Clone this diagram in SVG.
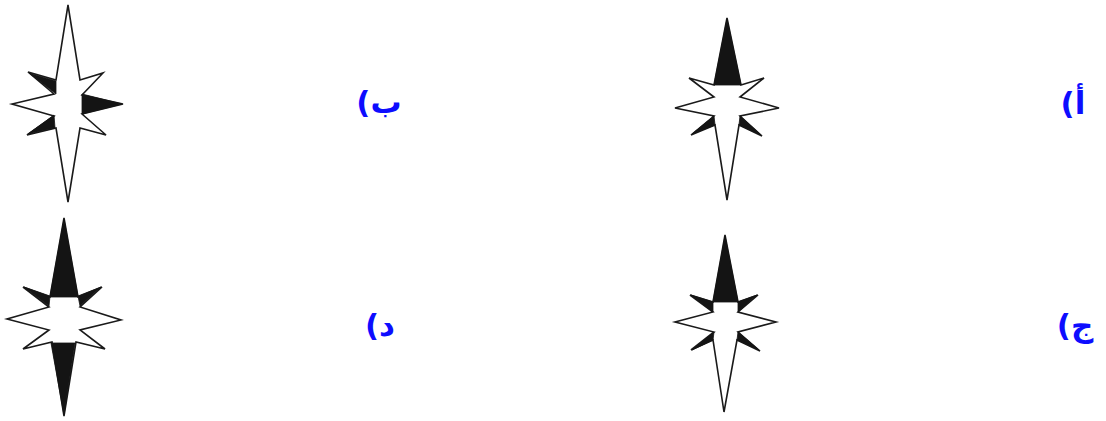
<svg xmlns="http://www.w3.org/2000/svg" width="1106" height="421" viewBox="0 0 1106 421">
<style>
.outline{fill:#fff;stroke:#1a1a1a;stroke-width:1.6;stroke-linejoin:miter}
.dark{fill:#141414;stroke:#141414;stroke-width:0.8;stroke-linejoin:round}
.lbl{font-family:"DejaVu Sans",sans-serif;font-weight:bold;font-size:31px;fill:#0d0dff;text-anchor:middle}
</style>
<rect width="1106" height="421" fill="#fff"/>
<g id="star-b">
<polygon class="outline" points="68,5 80,80 103,73 82,95 123,104 82,114 106,135 80,128 68,202 56,128 27,135 54,116 12,104 54,94 28,72 56,80"/>
<polygon class="dark" points="29,73 56,81 56,94"/>
<polygon class="dark" points="82,94 122,104 82,114"/>
<polygon class="dark" points="28,134 54,115 55,128"/>
</g>
<g id="star-a">
<polygon class="outline" points="727,18 741,85 764,78 740,97 779,108 740,116 762,136 739,125 727,200 715,125 691,135 714,116 675,108 714,97 689,78 714,85"/>
<polygon class="dark" points="727,19 741,85 714,85"/>
<polygon class="dark" points="715,125 692,134 714,116"/>
<polygon class="dark" points="740,116 761,135 739,125"/>
</g>
<g id="star-d">
<polygon class="outline" points="64,218 78,297 102,287 80,307 121,320 80,330 105,349 76,342 64,416 52,342 23,349 49,330 7,319 49,307 23,287 50,297"/>
<polygon class="dark" points="64,219 78,297 50,297"/>
<polygon class="dark" points="24,287 50,296 49,306"/>
<polygon class="dark" points="78,296 101,287 80,306"/>
<polygon class="dark" points="51,343 75,343 64,415"/>
</g>
<g id="star-c">
<polygon class="outline" points="725,235 738,302 758,295 738,312 776,322 738,332 760,351 737,340 724,412 713,340 691,350 714,332 675,322 713,312 690,295 713,302"/>
<polygon class="dark" points="725,236 738,302 713,302"/>
<polygon class="dark" points="691,295 713,302 713,312"/>
<polygon class="dark" points="738,302 757,295 738,312"/>
<polygon class="dark" points="713,340 692,350 714,332"/>
<polygon class="dark" points="738,332 759,350 737,340"/>
</g>
<g id="labels">
<text class="lbl" x="379" y="113" direction="rtl">ب)</text>
<text class="lbl" x="1073" y="114" direction="rtl">أ)</text>
<text class="lbl" x="380" y="336" direction="rtl">د)</text>
<text class="lbl" x="1075" y="336" direction="rtl">ج)</text>
</g>
</svg>
